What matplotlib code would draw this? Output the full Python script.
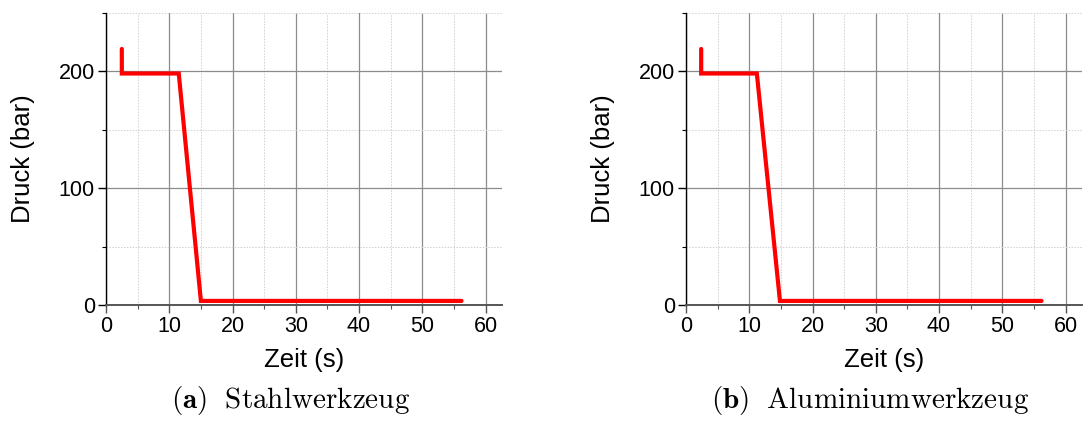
import matplotlib
matplotlib.use("Agg")
import matplotlib.pyplot as plt
from matplotlib.ticker import MultipleLocator

plt.rcParams["font.family"] = ["Liberation Sans", "DejaVu Sans"]
plt.rcParams["mathtext.fontset"] = "cm"

# Pressure curves (time in s, pressure in bar)
zeit_stahl = [2.5, 2.5, 11.5, 15.0, 56.2]
druck_stahl = [219, 198, 198, 3.5, 3.5]

zeit_alu = [2.4, 2.4, 11.2, 14.85, 56.2]
druck_alu = [219, 198, 198, 3.5, 3.5]

captions = [r"$\mathbf{(a)}\ \ \mathrm{Stahlwerkzeug}$",
            r"$\mathbf{(b)}\ \ \mathrm{Aluminiumwerkzeug}$"]

fig = plt.figure(figsize=(10.85, 4.21), dpi=100)
W, H = 1085, 421
panels = [(106, zeit_stahl, druck_stahl), (686, zeit_alu, druck_alu)]

for (x0, t, p), cap in zip(panels, captions):
    ax = fig.add_axes([x0 / W, (H - 305) / H, 396 / W, 292.3 / H])
    ax.set_xlim(0, 62.6)
    ax.set_ylim(0, 250)
    ax.xaxis.set_major_locator(MultipleLocator(10))
    ax.xaxis.set_minor_locator(MultipleLocator(5))
    ax.yaxis.set_major_locator(MultipleLocator(100))
    ax.yaxis.set_minor_locator(MultipleLocator(50))
    ax.grid(which="major", color="#8c8c8c", linewidth=0.9, linestyle="-")
    ax.grid(which="minor", color="#d0d0d0", linewidth=0.7, linestyle=(0, (1.5, 1.5)))
    ax.set_axisbelow(True)
    for s in ("top", "right"):
        ax.spines[s].set_visible(False)
    ax.spines["left"].set_color("black")
    ax.spines["left"].set_linewidth(1.0)
    ax.spines["bottom"].set_color("#555555")
    ax.spines["bottom"].set_linewidth(1.4)
    ax.tick_params(which="major", direction="out", length=6, width=1.0,
                   labelsize=15.5, colors="black", pad=2)
    ax.tick_params(which="minor", direction="out", length=3, width=0.8)
    ax.tick_params(axis="x", which="both", color="#555555")
    ax.plot(t, p, color="#ff0000", linewidth=3.0, solid_capstyle="round",
            solid_joinstyle="miter")
    ax.set_xlabel("Zeit (s)", fontsize=18.5, labelpad=8)
    ax.set_ylabel("Druck (bar)", fontsize=18.5, labelpad=17)
    ax.text(0.465, -0.27, cap, transform=ax.transAxes, ha="center", va="top",
            fontsize=21)

fig.savefig("out.png", dpi=100)
